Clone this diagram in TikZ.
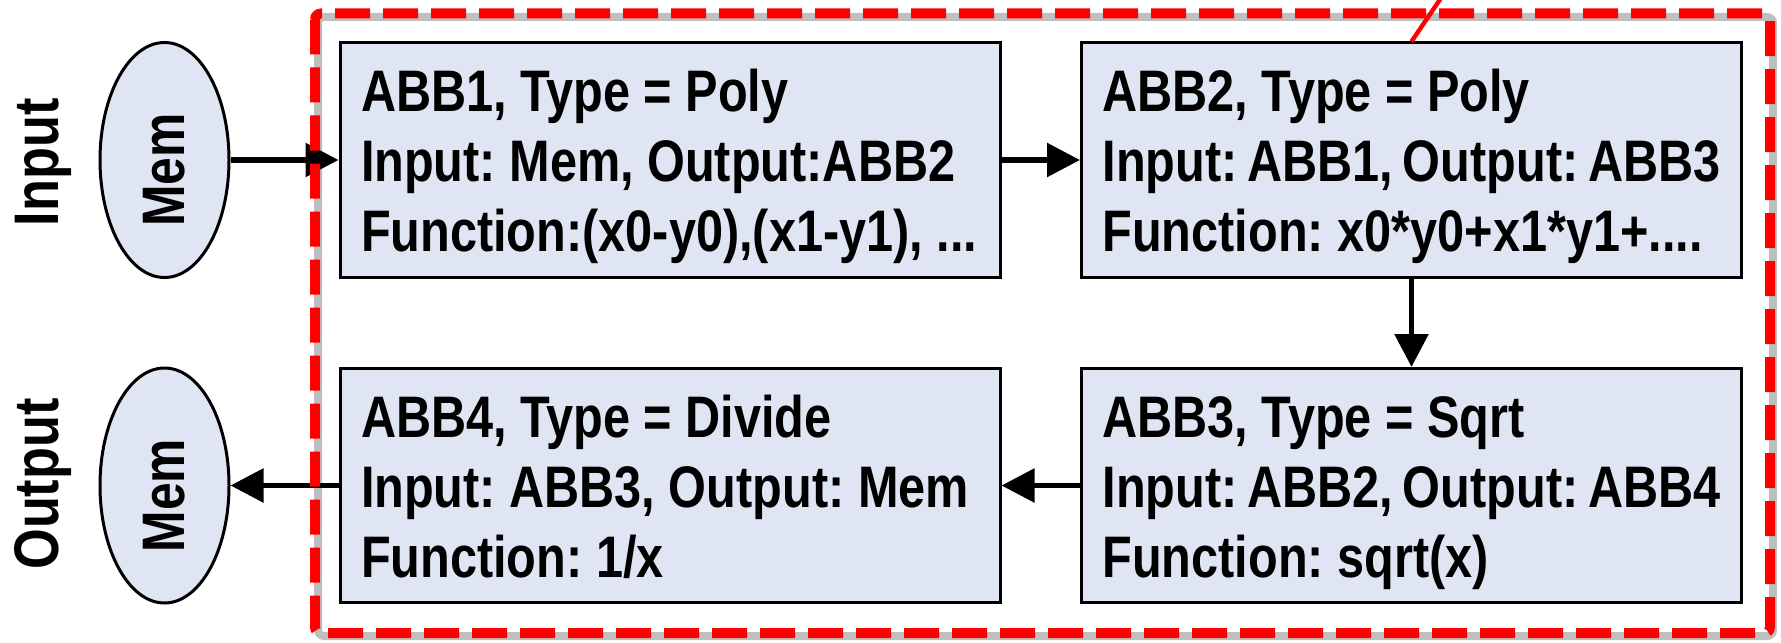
\documentclass[tikz,border=0pt]{standalone}
\usepackage{fontspec}
\newfontfamily\nb[FakeStretch=0.83]{Liberation Sans}
\usetikzlibrary{arrows.meta,shapes.geometric}
\definecolor{boxfill}{RGB}{223,229,242}
\definecolor{dred}{RGB}{255,0,0}
\newcommand\bline[1]{\hbox to 309pt{#1\hfil}}
\frenchspacing
\begin{document}
\begin{tikzpicture}[x=0.5pt,y=-0.5pt,
 abbbox/.style={draw=black, line width=1.5pt, fill=boxfill, inner xsep=10.5pt, inner ysep=0pt,
   text height=34.5pt, text depth=82.5pt, font=\nb\bfseries\fontsize{29.3pt}{35pt}\selectfont\frenchspacing},
 memnode/.style={ellipse, draw=black, line width=1.5pt, fill=boxfill, minimum width=117.5pt,
   minimum height=64.5pt, inner sep=0pt, rotate=90, font=\nb\bfseries\fontsize{30pt}{36pt}\selectfont},
 sidelabel/.style={rotate=90, anchor=base, inner sep=0pt, font=\nb\bfseries\fontsize{31.5pt}{38pt}\selectfont},
 arr/.style={line width=2.8pt, -{Triangle[length=16.5pt,width=16.5pt]}},
 dashbox/.style={draw=dred, line width=5pt, dash pattern=on 17.5pt off 6.5pt, rounded corners=3pt},
 dashshadow/.style={draw=gray!50, line width=4pt, rounded corners=3pt},
]
\useasboundingbox (0,0) rectangle (1781,642);

% shadow of the dashed frame
\draw[dashshadow] (318,17) rectangle (1773,636);

% memory ellipses
\node[memnode] (mem1) at (164.5,160) {Mem\hspace*{10pt}};
\node[memnode] (mem2) at (164.5,485.5) {Mem\hspace*{10pt}};

% side labels
\node[sidelabel] (inlab) at (58,162.5) {Input};
\node[sidelabel] (outlab) at (58,484) {Output};

% ABB boxes
\node[abbbox] (abb1) at (670,160) {\vtop{\bline{ABB1, Type = Poly}\bline{Input: Mem, Output:ABB2}\bline{Function:(x0-y0),(x1-y1), ...}}};
\node[abbbox] (abb2) at (1411.5,160) {\vtop{\bline{ABB2, Type = Poly}\bline{Input: ABB1, Output: ABB3}\bline{Function: x0*y0+x1*y1+....}}};
\node[abbbox] (abb3) at (1411.5,485.5) {\vtop{\bline{ABB3, Type = Sqrt}\bline{Input: ABB2, Output: ABB4}\bline{Function: sqrt(x)}}};
\node[abbbox] (abb4) at (670,485.5) {\vtop{\bline{ABB4, Type = Divide}\bline{Input: ABB3, Output: Mem}\bline{Function: 1/x}}};

% connectors
\draw[arr] (mem1) -- (abb1);
\draw[arr] (abb1) -- (abb2);
\draw[arr] (abb2) -- (abb3);
\draw[arr] (abb3) -- (abb4);
\draw[arr] (abb4) -- (mem2);

% dashed red frame
\draw[dashbox] (315,13.5) rectangle (1770,633);

% red slash
\coordinate (slashend) at (1443,-5);
\draw[dred, line width=2.2pt] (abb2.north) -- (slashend);
\end{tikzpicture}
\end{document}
